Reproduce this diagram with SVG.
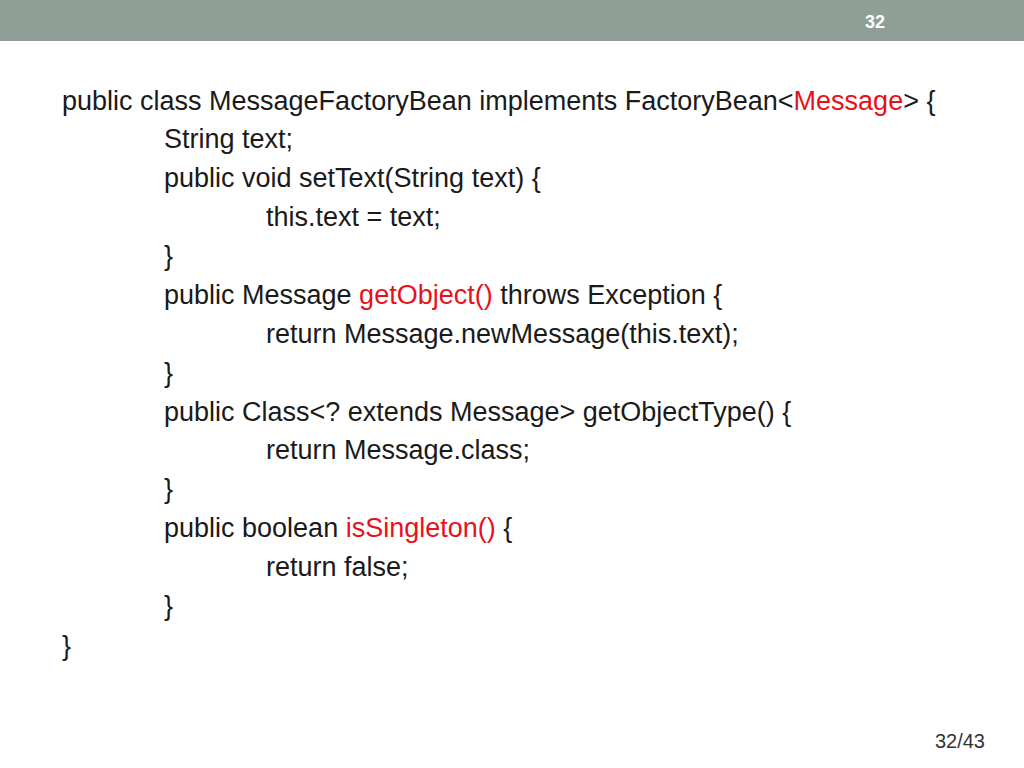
<svg xmlns="http://www.w3.org/2000/svg" width="1024" height="768" viewBox="0 0 1024 768">
<style>
.c{font-family:"Liberation Sans",Arial,sans-serif;font-size:27px;fill:#1a1a1a}
.r{fill:#e8101a}
</style>
<rect width="1024" height="768" fill="#ffffff"/>
<rect x="0" y="0" width="1024" height="41" fill="#8f9e96"/>
<text x="875" y="28" text-anchor="middle" font-family="Liberation Sans,Arial,sans-serif" font-size="18" font-weight="bold" fill="#ffffff">32</text>
<g id="code">
<text class="c" x="62" y="110">public class MessageFactoryBean implements FactoryBean&lt;<tspan class="r">Message</tspan>&gt; {</text>
<text class="c" x="164" y="148">String text;</text>
<text class="c" x="164" y="187">public void setText(String text) {</text>
<text class="c" x="266" y="226">this.text = text;</text>
<text class="c" x="164" y="265">}</text>
<text class="c" x="164" y="304">public Message <tspan class="r">getObject()</tspan> throws Exception {</text>
<text class="c" x="266" y="343">return Message.newMessage(this.text);</text>
<text class="c" x="164" y="382">}</text>
<text class="c" x="164" y="421">public Class&lt;? extends Message&gt; getObjectType() {</text>
<text class="c" x="266" y="459">return Message.class;</text>
<text class="c" x="164" y="498">}</text>
<text class="c" x="164" y="537">public boolean <tspan class="r">isSingleton()</tspan> {</text>
<text class="c" x="266" y="576">return false;</text>
<text class="c" x="164" y="615">}</text>
<text class="c" x="62" y="655">}</text>
</g>
<text x="985" y="748" text-anchor="end" font-family="Liberation Sans,Arial,sans-serif" font-size="20" fill="#333333">32/43</text>
</svg>
